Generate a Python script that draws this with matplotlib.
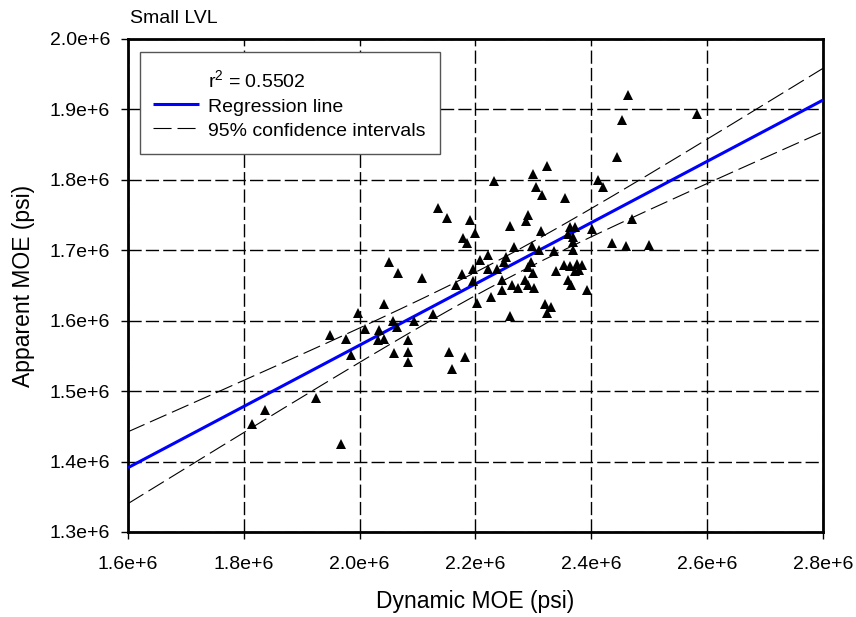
import numpy as np
import matplotlib
matplotlib.use("Agg")
import matplotlib.pyplot as plt
from matplotlib.lines import Line2D
from matplotlib.patches import Rectangle
from matplotlib.ticker import FuncFormatter, MultipleLocator

plt.rcParams["font.family"] = ["Liberation Sans", "DejaVu Sans"]
plt.rcParams["mathtext.fontset"] = "custom"
plt.rcParams["mathtext.rm"] = "Liberation Sans"
plt.rcParams["mathtext.default"] = "regular"
plt.rcParams["lines.scale_dashes"] = False

# ---- data (millions of psi) ----
dynamic_moe_mpsi = [
    1.814, 1.837, 1.925, 1.968, 1.949, 1.976, 1.985, 1.997, 2.009, 2.034,
    2.032, 2.042, 2.042, 2.058, 2.064, 2.059, 2.084, 2.084, 2.084, 2.093,
    2.126, 2.154, 2.160, 2.182, 2.050, 2.067, 2.107, 2.135, 2.151, 2.191,
    2.200, 2.178, 2.185, 2.166, 2.177, 2.196, 2.196, 2.203, 2.208, 2.221,
    2.222, 2.237, 2.232, 2.253, 2.249, 2.245, 2.245, 2.227, 2.260, 2.263,
    2.273, 2.267, 2.260, 2.290, 2.288, 2.313, 2.297, 2.310, 2.296, 2.290,
    2.299, 2.286, 2.291, 2.301, 2.320, 2.330, 2.323, 2.335, 2.339, 2.352,
    2.363, 2.375, 2.384, 2.372, 2.378, 2.360, 2.365, 2.393, 2.369, 2.363,
    2.372, 2.360, 2.369, 2.369, 2.401, 2.300, 2.324, 2.305, 2.314, 2.355,
    2.412, 2.420, 2.444, 2.453, 2.463, 2.583, 2.471, 2.435, 2.460, 2.500,
]
apparent_moe_mpsi = [
    1.453, 1.473, 1.490, 1.425, 1.580, 1.574, 1.551, 1.611, 1.588, 1.587,
    1.573, 1.574, 1.624, 1.599, 1.591, 1.554, 1.573, 1.555, 1.541, 1.599,
    1.609, 1.555, 1.531, 1.549, 1.684, 1.668, 1.661, 1.760, 1.746, 1.743,
    1.725, 1.718, 1.711, 1.651, 1.666, 1.674, 1.656, 1.625, 1.686, 1.693,
    1.674, 1.674, 1.798, 1.690, 1.683, 1.658, 1.644, 1.634, 1.607, 1.650,
    1.646, 1.704, 1.734, 1.750, 1.741, 1.727, 1.706, 1.700, 1.684, 1.676,
    1.668, 1.658, 1.651, 1.646, 1.624, 1.619, 1.611, 1.699, 1.671, 1.679,
    1.678, 1.681, 1.679, 1.670, 1.672, 1.658, 1.651, 1.644, 1.700, 1.733,
    1.733, 1.723, 1.719, 1.712, 1.730, 1.809, 1.820, 1.790, 1.779, 1.774,
    1.800, 1.790, 1.833, 1.885, 1.920, 1.894, 1.745, 1.711, 1.706, 1.708,
]

# regression fit (as shown on the chart)
r_squared_text = "0.5502"
reg_slope = 0.435          # psi / psi
reg_intercept_mpsi = 0.6953
# 95% confidence band of the fit: half-width = sqrt(h0^2 + k (x - xc)^2)
ci_center_mpsi = 2.242
ci_halfwidth_center_mpsi = 0.0162
ci_spread = 0.005677

title_text = "Small LVL"
x_label = "Dynamic MOE (psi)"
y_label = "Apparent MOE (psi)"
legend_labels = ["r$^{2}$ = " + r_squared_text, "Regression line", "95% confidence intervals"]
x_limits_mpsi = [1.6, 2.8]
y_limits_mpsi = [1.3, 2.0]

# ---- figure ----
W, H = 856, 617
fig = plt.figure(figsize=(W / 100, H / 100), dpi=100)
ax_l, ax_r, ax_t, ax_b = 128, 823, 39, 532
ax = fig.add_axes([ax_l / W, 1 - ax_b / H, (ax_r - ax_l) / W, (ax_b - ax_t) / H])

x = np.array(dynamic_moe_mpsi) * 1e6
y = np.array(apparent_moe_mpsi) * 1e6

xfit = np.linspace(x_limits_mpsi[0], x_limits_mpsi[1], 200)
yfit = reg_intercept_mpsi + reg_slope * xfit
half = np.sqrt(ci_halfwidth_center_mpsi ** 2 + ci_spread * (xfit - ci_center_mpsi) ** 2)

ax.grid(True, color="black", linewidth=1.0, dashes=(9.5, 3.0), zorder=0)
ax.set_axisbelow(True)

ci_dash = (13, 4.3)
ax.plot(xfit * 1e6, (yfit + half) * 1e6, color="black", lw=0.8, dashes=ci_dash, zorder=2)
ax.plot(xfit * 1e6, (yfit - half) * 1e6, color="black", lw=0.8, dashes=ci_dash, zorder=2)
ax.plot(xfit * 1e6, yfit * 1e6, color="#0000FF", lw=2.2, zorder=3, solid_capstyle="butt")
ax.plot(x, y, linestyle="none", marker="^", markersize=7.5, color="black",
        markeredgewidth=0, zorder=4, clip_on=False)

ax.set_xlim(x_limits_mpsi[0] * 1e6, x_limits_mpsi[1] * 1e6)
ax.set_ylim(y_limits_mpsi[0] * 1e6, y_limits_mpsi[1] * 1e6)
ax.xaxis.set_major_locator(MultipleLocator(0.2e6))
ax.yaxis.set_major_locator(MultipleLocator(0.1e6))
fmt = FuncFormatter(lambda v, p: f"{v / 1e6:.1f}e+6")
ax.xaxis.set_major_formatter(fmt)
ax.yaxis.set_major_formatter(fmt)

for s in ax.spines.values():
    s.set_linewidth(2.0)
    s.set_color("black")
ax.tick_params(axis="both", direction="out", length=5, width=1.0, labelsize=14, color="black")
ax.tick_params(axis="x", pad=12)
ax.tick_params(axis="y", pad=8)

ax.set_xlabel(x_label, fontsize=16.5)
ax.set_ylabel(y_label, fontsize=16.5)
ax.xaxis.set_label_coords(0.5, -(590 - ax_b) / (ax_b - ax_t))
ax.yaxis.set_label_coords(-(ax_l - 35) / (ax_r - ax_l), 0.5)

fig.text(130 / W, 1 - 23 / H, title_text, fontsize=14, ha="left", va="baseline")

# ---- legend box (drawn in figure pixel space) ----
def fx(px):
    return px / W

def fy(py):
    return 1 - py / H

tf = fig.transFigure
fig.add_artist(Rectangle((fx(140), fy(154)), (440 - 140) / W, (154 - 52) / H,
                         transform=tf, facecolor="white", edgecolor="#555555",
                         linewidth=1.0, zorder=10))
row_centers = [80, 105, 129]
key_styles = [None,
              dict(color="#0000FF", lw=2.2, solid_capstyle="butt"),
              dict(color="black", lw=0.8, dashes=ci_dash)]
for label, yc, style in zip(legend_labels, row_centers, key_styles):
    if style is not None:
        fig.add_artist(Line2D([fx(153), fx(199)], [fy(yc - 1), fy(yc - 1)],
                              transform=tf, zorder=11, **style))
    fig.text(fx(208), fy(yc + 7), label, fontsize=14, ha="left", va="baseline", zorder=11)

fig.savefig("out.png", dpi=100)
